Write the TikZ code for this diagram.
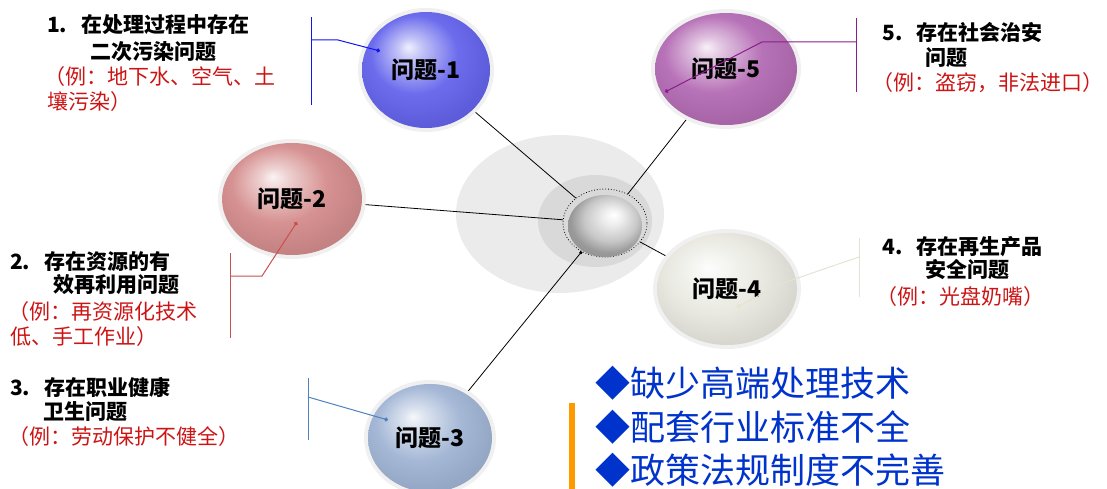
\documentclass[tikz,border=0pt]{standalone}
\usepackage{fontspec}
\setmainfont{Noto Sans CJK SC}
\usetikzlibrary{shapes.geometric,arrows.meta,backgrounds}

\definecolor{probone}{RGB}{100,100,236}
\definecolor{probtwo}{RGB}{212,140,140}
\definecolor{probthree}{RGB}{160,180,212}
\definecolor{probfour}{RGB}{232,232,224}
\definecolor{probfive}{RGB}{180,108,180}
\definecolor{exred}{RGB}{204,20,20}
\definecolor{lackblue}{RGB}{0,51,204}
\definecolor{barorange}{RGB}{255,153,0}
\definecolor{lineblue}{RGB}{20,20,240}
\definecolor{linepurple}{RGB}{140,30,140}
\definecolor{linered}{RGB}{200,80,80}
\definecolor{linesteel}{RGB}{79,129,189}
\definecolor{linepale}{RGB}{228,228,210}

\colorlet{bubblecol}{gray}
\pgfdeclareradialshading[bubblecol]{bubble}{\pgfpoint{-7bp}{10bp}}{%
	color(0bp)=(bubblecol!10!white);
	color(5bp)=(bubblecol!40!white);
	color(17bp)=(bubblecol!95!white);
	color(28bp)=(bubblecol!93!black);
	color(50bp)=(bubblecol!82!black)}

\pgfdeclareradialshading{silverball}{\pgfpoint{6bp}{9bp}}{%
	color(0bp)=(white);
	color(6bp)=(black!6);
	color(18bp)=(black!22);
	color(26bp)=(black!40);
	color(50bp)=(black!50)}

\tikzset{
	bubble/.style={ellipse, inner sep=0pt, preaction={draw=black!6, line width=8pt}, shading=bubble, font=\fontsize{23}{23}\selectfont\bfseries},
	bcol/.code={\colorlet{bubblecol}{#1}},
	heading/.style={anchor=west, inner sep=0pt, font=\fontsize{21}{21}\selectfont\bfseries},
	sample/.style={anchor=west, inner sep=0pt, text=exred, font=\fontsize{21}{21}\selectfont},
	lack/.style={anchor=west, inner sep=0pt, text=lackblue, font=\fontsize{35}{35}\selectfont},
	spoke/.style={draw=black, line width=0.8pt},
	bracket/.style={line width=1pt},
	callout/.style={line width=1pt, -{Circle[length=4pt]}},
}

\begin{document}
\begin{tikzpicture}[x=1pt, y=-1pt]

	\useasboundingbox (0,0) rectangle (1107,489);

	\node[ellipse, draw, dotted, line width=0.8pt, minimum width=84pt, minimum height=68pt, inner sep=0pt] (ring) at (605,223) {};

	\node[ellipse, shading=silverball, minimum width=74pt, minimum height=62pt, inner sep=0pt] (hub) at (605,226) {};

	\node[bubble, bcol=probone, minimum width=128pt, minimum height=116pt] (q1) at (426,70) {问题-1};

	\node[bubble, bcol=probtwo, minimum width=140pt, minimum height=112pt] (q2) at (292,199) {问题-2};

	\node[bubble, bcol=probthree, minimum width=124pt, minimum height=108pt] (q3) at (430,438) {问题-3};

	\node[bubble, bcol=probfour, minimum width=140pt, minimum height=112pt] (q4) at (727,289) {问题-4};

	\node[bubble, bcol=probfive, minimum width=142pt, minimum height=112pt] (q5) at (726,69) {问题-5};

	\begin{pgfonlayer}{background}
		\fill[black!8] (560,214) ellipse [x radius=104, y radius=79];
		\fill[black!15] (595,221) ellipse [x radius=57, y radius=46];
		\draw[spoke] (ring) -- (q1);
		\draw[spoke] (ring) -- (q2);
		\draw[spoke, {Square[length=2.5pt]}-] (ring) -- (q3);
		\draw[spoke] (ring) -- (q4);
		\draw[spoke] (ring) -- (q5);
	\end{pgfonlayer}

	\coordinate (d1) at (380,51);
	\draw[bracket, lineblue] (311,17) -- (311,105);
	\draw[callout, lineblue] (311,40) -- (338,40) -- (d1);

	\coordinate (d2) at (297,222);
	\draw[bracket, linered] (230,253) -- (230,338);
	\draw[callout, linered] (230,276) -- (262,276) -- (d2);

	\coordinate (d3) at (388,420);
	\draw[bracket, linesteel] (308,378) -- (308,440);
	\draw[callout, linesteel] (308,397) -- (d3);

	\coordinate (d4) at (737,307);
	\draw[bracket, linepale] (859,238) -- (859,297);
	\draw[callout, linepale] (859,257) -- (783,283) -- (d4);

	\coordinate (d5) at (665,92);
	\draw[bracket, linepurple] (856,18) -- (856,92);
	\draw[callout, linepurple] (856,42) -- (762,42) -- (d5);

	\node[heading] (h1a) at (47,25) {1.\hspace{14pt}在处理过程中存在};
	\node[heading] (h1b) at (90,52) {二次污染问题};
	\node[sample] (s1a) at (44,77) {（例：地下水、空气、土};
	\node[sample] (s1b) at (47,102) {壤污染）};

	\node[heading] (h2a) at (10,262) {2.\hspace{14pt}存在资源的有};
	\node[heading] (h2b) at (53,285) {效再利用问题};
	\node[sample] (s2a) at (8,312) {（例：再资源化技术};
	\node[sample] (s2b) at (10,337) {低、手工作业）};

	\node[heading] (h3a) at (10,387) {3.\hspace{14pt}存在职业健康};
	\node[heading] (h3b) at (43,412) {卫生问题};
	\node[sample] (s3a) at (8,437) {（例：劳动保护不健全）};

	\node[heading] (h4a) at (882,247) {4.\hspace{14pt}存在再生产品};
	\node[heading] (h4b) at (925,270) {安全问题};
	\node[sample] (s4a) at (876,297) {（例：光盘奶嘴）};

	\node[heading] (h5a) at (882,33) {5.\hspace{14pt}存在社会治安};
	\node[heading] (h5b) at (925,58) {问题};
	\node[sample] (s5a) at (872,83) {（例：盗窃，非法进口）};

	\fill[barorange] (569,403) rectangle (575,489);

	\node[lack] (l1) at (595,383) {◆缺少高端处理技术};
	\node[lack] (l2) at (595,427) {◆配套行业标准不全};
	\node[lack] (l3) at (595,470) {◆政策法规制度不完善};

\end{tikzpicture}
\end{document}
